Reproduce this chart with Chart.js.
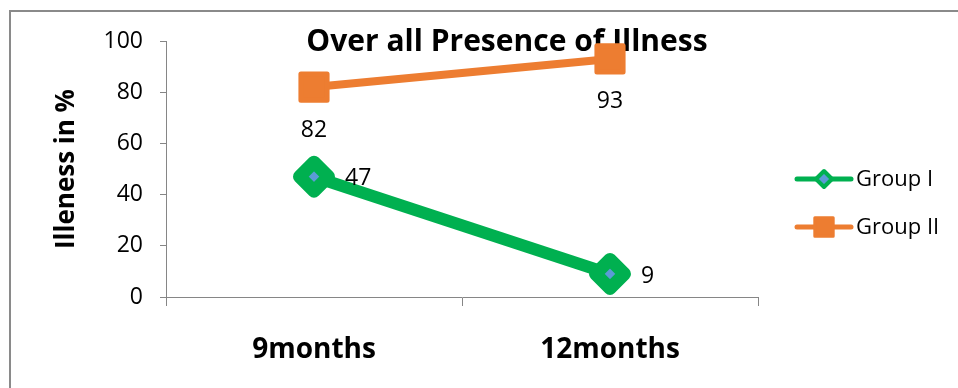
<!DOCTYPE html>
<html>
<head>
<meta charset="utf-8">
<title>Over all Presence of Illness</title>
<script src="https://cdn.jsdelivr.net/npm/chart.js@4.4.1/dist/chart.umd.min.js"></script>
<style>
  body { margin: 0; background: #fff; overflow: hidden; }
  #wrap { position: relative; width: 958px; height: 388px; overflow: hidden; }
  #frame { position: absolute; left: 9px; top: 10px; width: 1000px; height: 500px; border: 2px solid #8a8a8a; }
  #chart { position: absolute; left: 0; top: 0; }
</style>
</head>
<body>
<div id="wrap">
  <div id="frame"></div>
  <canvas id="chart" width="958" height="388"></canvas>
</div>
<script>
// ------------------------------------------------------------
// Data
// ------------------------------------------------------------
const CATEGORIES = ['9months', '12months'];
const GROUP_I = [47, 9];
const GROUP_II = [82, 93];
const SERIES_NAMES = ['Group I', 'Group II'];
const Y_MIN = 0;
const Y_MAX = 100;
const Y_STEP = 20;
const TITLE = 'Over all Presence of Illness';
const Y_TITLE = 'Illeness in %';

const FONT = "'Open Sans', 'Noto Sans', sans-serif";
const GREEN = '#00b050';
const ORANGE = '#ed7d31';
const BLUE = '#5b9bd5';
const AXIS = '#868686';

// Title sits over the plot, behind the lines
const titlePlugin = {
    id: 'plotTitle',
    beforeDatasetsDraw(chart) {
        const ctx = chart.ctx;
        ctx.save();
        ctx.font = `bold 30px ${FONT}`;
        ctx.fillStyle = '#000';
        ctx.textAlign = 'center';
        ctx.textBaseline = 'alphabetic';
        ctx.fillText(TITLE, 507, 51);
        ctx.restore();
        // rounded corners on the markers
        ctx.lineJoin = 'round';
    }
};

// Value labels: below the squares, right of the diamonds
const valueLabels = {
    id: 'valueLabels',
    afterDatasetsDraw(chart) {
        const ctx = chart.ctx;
        ctx.save();
        ctx.font = `23px ${FONT}`;
        ctx.fillStyle = '#000';
        ctx.textBaseline = 'middle';
        chart.data.datasets.forEach((ds, i) => {
            const meta = chart.getDatasetMeta(i);
            meta.data.forEach((pt, j) => {
                const v = ds.data[j];
                if (ds.labelPos === 'below') {
                    ctx.textAlign = 'center';
                    ctx.fillText(String(v), pt.x, pt.y + 43);
                } else {
                    ctx.textAlign = 'left';
                    ctx.fillText(String(v), pt.x + 31, pt.y + 2);
                }
            });
        });
        ctx.restore();
    }
};

// Legend with line + marker samples on the right
const sideLegend = {
    id: 'sideLegend',
    afterDraw(chart) {
        const ctx = chart.ctx;
        const x0 = 797, x1 = 851, textX = 856;
        const rows = [179, 227];
        ctx.save();
        ctx.lineJoin = 'round';
        chart.data.datasets.forEach((ds, i) => {
            const y = rows[i];
            ctx.strokeStyle = ds.borderColor;
            ctx.lineWidth = 5;
            ctx.lineCap = 'round';
            ctx.beginPath();
            ctx.moveTo(x0, y);
            ctx.lineTo(x1, y);
            ctx.stroke();

            ctx.fillStyle = ds.pointBackgroundColor;
            ctx.strokeStyle = ds.pointBorderColor;
            ctx.lineWidth = ds.legendMarker.borderWidth;
            Chart.helpers.drawPoint(ctx, {
                pointStyle: ds.pointStyle,
                radius: ds.legendMarker.radius,
                borderWidth: ds.legendMarker.borderWidth,
                rotation: 0
            }, (x0 + x1) / 2, y);

            ctx.fillStyle = '#000';
            ctx.font = `22px ${FONT}`;
            ctx.textAlign = 'left';
            ctx.textBaseline = 'middle';
            ctx.fillText(ds.label, textX, y + 1);
        });
        ctx.restore();
    }
};

new Chart(document.getElementById('chart'), {
    type: 'line',
    data: {
        labels: CATEGORIES,
        datasets: [
            {
                label: SERIES_NAMES[0],
                data: GROUP_I,
                borderColor: GREEN,
                borderWidth: 12,
                borderJoinStyle: 'round',
                pointStyle: 'rectRot',
                pointRadius: 14.5,
                pointBorderWidth: 13,
                pointBackgroundColor: BLUE,
                pointBorderColor: GREEN,
                labelPos: 'right',
                legendMarker: { radius: 8, borderWidth: 4 }
            },
            {
                label: SERIES_NAMES[1],
                data: GROUP_II,
                borderColor: ORANGE,
                borderWidth: 8,
                pointStyle: 'rect',
                pointRadius: 18.5,
                pointBorderWidth: 5,
                pointBackgroundColor: ORANGE,
                pointBorderColor: ORANGE,
                labelPos: 'below',
                legendMarker: { radius: 13, borderWidth: 3 }
            }
        ]
    },
    options: {
        responsive: false,
        animation: false,
        layout: { padding: { left: 0, top: 41, right: 200, bottom: 0 } },
        plugins: {
            legend: { display: false },
            tooltip: { enabled: false },
            title: { display: false }
        },
        scales: {
            x: {
                type: 'category',
                offset: true,
                afterFit: (scale) => { scale.height = 91; },
                grid: { drawOnChartArea: false, offset: true, tickLength: 9, color: AXIS, lineWidth: 1 },
                border: { color: AXIS, width: 1 },
                ticks: { color: '#000', padding: 27, font: { family: FONT, size: 28, weight: 'bold' } }
            },
            y: {
                min: Y_MIN,
                max: Y_MAX,
                afterFit: (scale) => { scale.width = 166; },
                grid: { drawOnChartArea: false, tickLength: 6, color: AXIS, lineWidth: 1 },
                border: { color: AXIS, width: 1 },
                ticks: { stepSize: Y_STEP, color: '#000', padding: 17, font: { family: FONT, size: 23 } },
                title: {
                    display: true,
                    text: Y_TITLE,
                    color: '#000',
                    padding: { top: 51, bottom: 0 },
                    font: { family: FONT, size: 26, weight: 'bold' }
                }
            }
        }
    },
    plugins: [titlePlugin, valueLabels, sideLegend]
});
</script>
</body>
</html>
